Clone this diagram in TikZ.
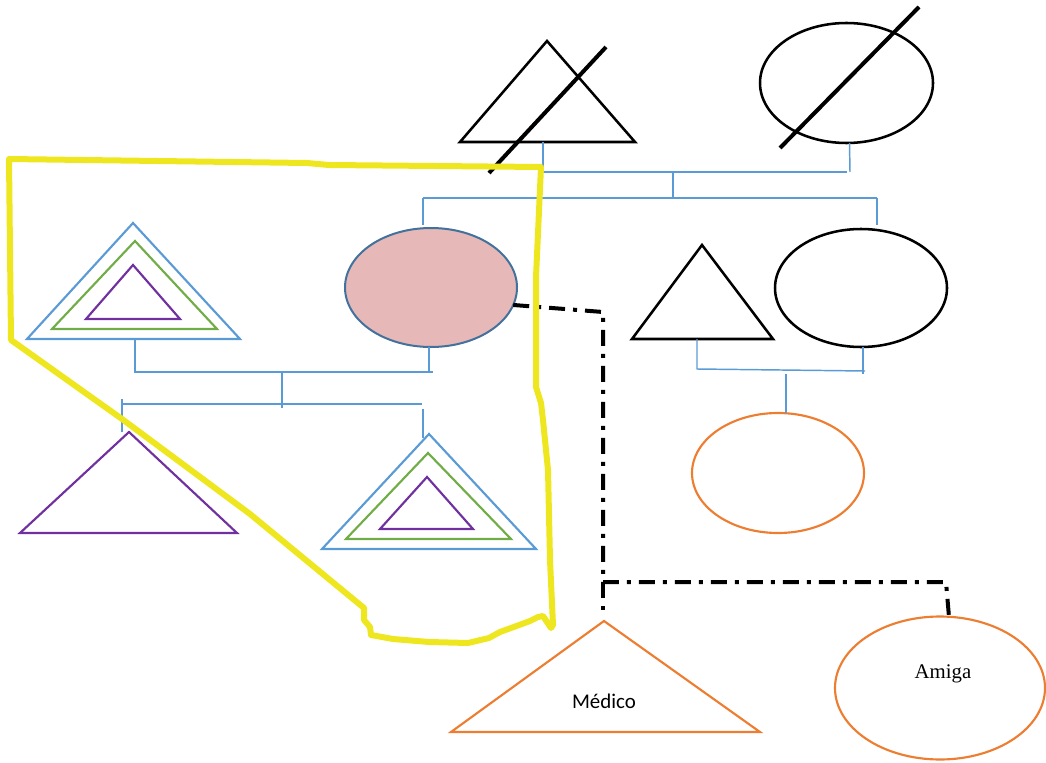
\documentclass[tikz,border=0pt]{standalone}
\usepackage{fontspec}
\setmainfont{Liberation Serif}
\newfontfamily\calib{Carlito}
\usetikzlibrary{shapes.geometric}
\definecolor{lblue}{RGB}{91,155,213}
\definecolor{lgreen}{RGB}{112,173,71}
\definecolor{lpurple}{RGB}{112,48,160}
\definecolor{lorange}{RGB}{237,125,49}
\definecolor{hlyellow}{RGB}{238,230,30}
\definecolor{pinkfill}{RGB}{230,184,183}
\definecolor{pinkedge}{RGB}{65,113,156}
\begin{document}
\begin{tikzpicture}[x=0.75pt,y=-0.75pt,
  kin/.style={draw=lblue,line width=1.1pt},
  blk/.style={draw=black,line width=1.9pt},
  strike/.style={draw=black,line width=3pt},
  bluet/.style={draw=lblue,line width=1.6pt,line join=miter},
  greent/.style={draw=lgreen,line width=1.6pt},
  purplet/.style={draw=lpurple,line width=1.6pt},
  oranget/.style={draw=lorange,line width=1.6pt},
  ell/.style={ellipse,inner sep=0pt,outer sep=0pt},
  dd/.style={draw=black,line width=3pt,dash pattern=on 12pt off 6pt on 3pt off 6pt},
  hl/.style={draw=hlyellow,line width=4.5pt,line join=round,line cap=round}]
\useasboundingbox (0,0) rectangle (1046,763);

% ---- top generation
\draw[blk] (547,41) -- (460,142) -- (635,142) -- cycle;
\coordinate (gfB) at (543,142);
\draw[strike] (489,173) -- (606,47);
\node[ell,blk,minimum width=129.75pt,minimum height=90pt] (gm) at (846.5,83) {};
\draw[strike] (780,148) -- (919,7);

% ---- second generation
% nested triangle left
\draw[bluet] (133,223) -- (27,339) -- (240,339) -- cycle;
\draw[greent] (135,241) -- (52,329) -- (217,329) -- cycle;
\draw[purplet] (133,265) -- (86,319) -- (180,319) -- cycle;
\coordinate (fB) at (135,339);
% pink ellipse
\node[ell,draw=pinkedge,line width=1.5pt,fill=pinkfill,minimum width=129pt,minimum height=89.25pt] (pk) at (431,287.5) {};
% black triangle right
\draw[blk] (702,245) -- (632,339) -- (773,339) -- cycle;
\coordinate (uB) at (697,339);
\node[ell,blk,minimum width=129pt,minimum height=88.5pt] (ae) at (861,288) {};

% ---- third generation
\draw[purplet] (129,432) -- (20,533) -- (237,533) -- cycle;
\draw[bluet] (429,434) -- (322,549) -- (536,549) -- cycle;
\draw[greent] (428,453) -- (346,539) -- (511,539) -- cycle;
\draw[purplet] (427,477) -- (380,529) -- (473,529) -- cycle;
\node[ell,oranget,minimum width=129pt,minimum height=90pt] (oe) at (778,473) {};

% ---- bottom
\draw[oranget] (604,621) -- (451,732) -- (760,732) -- cycle;
\coordinate (medA) at (604,621);
\node[anchor=base,font=\calib\fontsize{15.7}{18}\selectfont] (med) at (604,708) {Médico};
\node[ell,oranget,minimum width=157.5pt,minimum height=107.25pt] (am) at (940,688) {};
\node[anchor=base,font=\fontsize{15.6}{18}\selectfont] (amt) at (943,678) {Amiga};

% ---- kinship connectors (blue)
\coordinate (j1) at (543,172);
\coordinate (j1r) at (850,172);
\coordinate (j1m) at (673,172);
\coordinate (j2m) at (673,198);
\coordinate (j2l) at (423,198);
\coordinate (j2r) at (877,198);
\draw[kin] (gfB) -- (j1) -- (847,172);
\draw[kin] (gm.south) ++(3,0) -- (j1r);
\draw[kin] (j1m) -- (j2m);
\draw[kin] (j2l) -- (j2r);
\draw[kin] (j2l) -- (423,225);
\draw[kin] (j2r) -- (877,225);

\coordinate (j3l) at (135,372);
\coordinate (j3r) at (433,372);
\coordinate (j3m) at (282,372);
\draw[kin] (fB) -- (j3l) -- (j3r);
\draw[kin] (pk.south) ++(-2,0) -- (429,372);
\draw[kin] (j3m) -- (282,408);
\coordinate (j4l) at (122,404);
\coordinate (j4r) at (422,404);
\draw[kin] (j4l) -- (j4r);
\draw[kin] (122,399) -- (122,432);
\draw[kin] (423,409) -- (423,438);

\coordinate (j5l) at (697,369);
\coordinate (j5r) at (865,371);
\coordinate (j6) at (786,374);
\draw[kin] (uB) -- (j5l) -- (j5r);
\draw[kin] (ae.south) ++(2,0) -- (863,374);
\draw[kin] (j6) -- (j6 |- oe.north);

% ---- dash-dot relationships
\coordinate (d1) at (603,312);
\coordinate (d2) at (603,582);
\coordinate (d3) at (946,582);
\draw[dd] (pk.-12) -- (d1) -- (d2) -- (d3) -- (949,617);
\draw[dd] (d2) -- (603,612);

% ---- yellow highlight
\draw[hl] (9,159) -- (307,163) -- (329,165) -- (541,167) -- (536,277) -- (536,387)
  -- (541,403) -- (543,420) -- (548,470) -- (550,560) -- (553,625) -- (551,628)
  -- (543,616) -- (538,617) -- (530,621) -- (511,628) -- (500,632) -- (489,638)
  -- (468,643) -- (429,642) -- (393,639) -- (371,635) -- (370,627) -- (364,620)
  -- (364,608) -- (250,514) -- (122,419) -- (11,340) -- cycle;
\end{tikzpicture}
\end{document}
